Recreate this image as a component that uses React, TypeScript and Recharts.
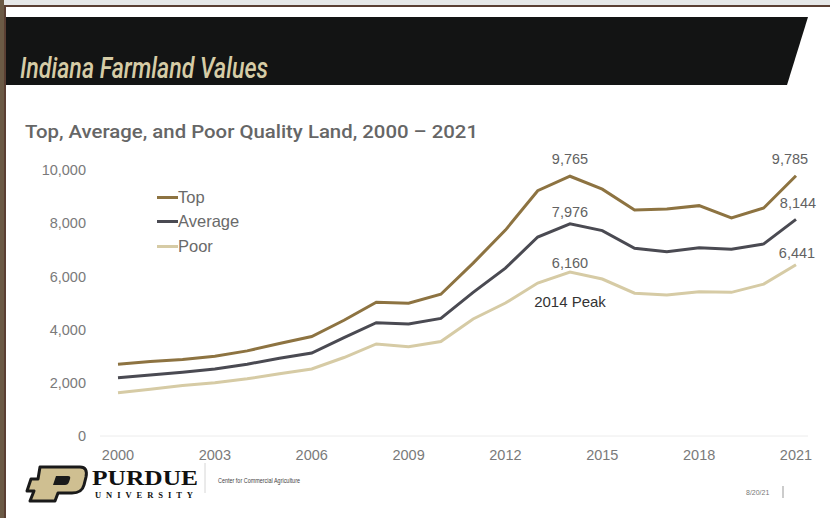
import React from 'react';
import { LineChart, Line, XAxis, YAxis, CartesianGrid } from 'recharts';

const years = [
  2000, 2001, 2002, 2003, 2004, 2005, 2006, 2007, 2008, 2009, 2010,
  2011, 2012, 2013, 2014, 2015, 2016, 2017, 2018, 2019, 2020, 2021,
];
const topValues = [
  2700, 2800, 2880, 3000, 3200, 3480, 3740, 4350, 5030, 4990, 5330,
  6500, 7740, 9220, 9765, 9280, 8500, 8530, 8660, 8200, 8570, 9785,
];
const averageValues = [
  2190, 2290, 2400, 2520, 2700, 2920, 3120, 3700, 4260, 4210, 4420,
  5400, 6310, 7480, 7976, 7720, 7060, 6930, 7080, 7020, 7220, 8144,
];
const poorValues = [
  1630, 1760, 1900, 2000, 2150, 2340, 2520, 2950, 3460, 3360, 3550,
  4400, 5000, 5750, 6160, 5900, 5370, 5300, 5420, 5400, 5710, 6441,
];
const xTicks = [2000, 2003, 2006, 2009, 2012, 2015, 2018, 2021];
const yTicks = [0, 2000, 4000, 6000, 8000, 10000];

const COLORS = { top: '#8d7341', average: '#4a4a52', poor: '#d6cba5' };
const SANS = 'Liberation Sans, Arial, sans-serif';

const data = years.map((year, i) => ({
  year,
  top: topValues[i],
  average: averageValues[i],
  poor: poorValues[i],
}));

const fmt = (v: number) => v.toLocaleString('en-US');

// label the 2014 peak and the 2021 value only
const makeLabel = (dyPeak: number, dyEnd: number, dxEnd: number, peakNote?: boolean) =>
  (props: any) => {
    const { x, y, value, index } = props;
    const year = years[index];
    if (year === 2014) {
      return (
        <g>
          <text x={x} y={y + dyPeak} textAnchor="middle" fill="#626262" fontSize={14.5} fontFamily={SANS}>
            {fmt(value)}
          </text>
          {peakNote && (
            <text x={x} y={y + 35} textAnchor="middle" fill="#333333" fontSize={15} fontFamily={SANS}>
              2014 Peak
            </text>
          )}
        </g>
      );
    }
    if (year === 2021) {
      return (
        <text x={x + dxEnd} y={y + dyEnd} textAnchor="middle" fill="#626262" fontSize={14.5} fontFamily={SANS}>
          {fmt(value)}
        </text>
      );
    }
    return null;
  };

const legendItems = [
  { name: 'Top', color: COLORS.top },
  { name: 'Average', color: COLORS.average },
  { name: 'Poor', color: COLORS.poor },
];

const App: React.FC = () => {
  return (
    <div style={{ position: 'absolute', left: 0, top: 0, width: 830, height: 518, background: '#ffffff', overflow: 'hidden' }}>
      {/* frame around the slide */}
      <div style={{ position: 'absolute', left: 0, top: 0, width: 830, height: 5, background: '#e6e8e8' }} />
      <div style={{ position: 'absolute', left: 0, top: 0, width: 4, height: 518, background: '#6b5a45' }} />
      <div style={{ position: 'absolute', left: 4, top: 5, width: 826, height: 2, background: '#5a3f33' }} />
      <div style={{ position: 'absolute', left: 4, top: 5, width: 2, height: 513, background: '#5a3f33' }} />

      {/* black title banner + subtitle */}
      <svg width={830} height={150} style={{ position: 'absolute', left: 0, top: 0 }}>
        <polygon points="6,17 808,17 787,85 6,85" fill="#131414" />
        <text x={20} y={78} fill="#d6cca6" fontSize={30} fontStyle="italic" fontWeight={500}
          fontFamily="Roboto, Liberation Sans, sans-serif" textLength={248} lengthAdjust="spacingAndGlyphs">
          Indiana Farmland Values
        </text>
        <text x={25} y={138} fill="#666666" fontSize={19} fontWeight={500}
          fontFamily="Roboto, Liberation Sans, sans-serif" textLength={453} lengthAdjust="spacingAndGlyphs">
          Top, Average, and Poor Quality Land, 2000 – 2021
        </text>
      </svg>

      <div style={{ position: 'absolute', left: 0, top: 0 }}>
        <LineChart width={830} height={518} data={data} margin={{ top: 170, right: 22, bottom: 52, left: 0 }}>
          <CartesianGrid horizontal={false} vertical={false} />
          <XAxis
            dataKey="year"
            type="number"
            domain={[2000, 2021]}
            ticks={xTicks}
            padding={{ left: 18, right: 12 }}
            height={30}
            tickSize={0}
            tickMargin={14}
            axisLine={{ stroke: '#ececec', strokeWidth: 1 }}
            tickLine={false}
            tick={{ fill: '#7a7a7a', fontSize: 14.5, fontFamily: SANS }}
          />
          <YAxis
            domain={[0, 10000]}
            ticks={yTicks}
            width={100}
            tickSize={0}
            tickMargin={14}
            axisLine={false}
            tickLine={false}
            tickFormatter={fmt}
            tick={{ fill: '#7a7a7a', fontSize: 14.5, fontFamily: SANS }}
          />
          <Line dataKey="poor" stroke={COLORS.poor} strokeWidth={3} dot={false} type="linear"
            isAnimationActive={false} label={makeLabel(-4, -7, 1, true)} />
          <Line dataKey="average" stroke={COLORS.average} strokeWidth={3} dot={false} type="linear"
            isAnimationActive={false} label={makeLabel(-7, -11, 2)} />
          <Line dataKey="top" stroke={COLORS.top} strokeWidth={3} dot={false} type="linear"
            isAnimationActive={false} label={makeLabel(-12.5, -12, -6)} />
        </LineChart>
      </div>

      {/* legend */}
      <div style={{ position: 'absolute', left: 157, top: 185, fontFamily: SANS, fontSize: 16.5, color: '#6a6a6a' }}>
        {legendItems.map(item => (
          <div key={item.name} style={{ display: 'flex', alignItems: 'center', height: 24.5 }}>
            <span style={{ display: 'inline-block', width: 21, height: 3, background: item.color }} />
            <span>{item.name}</span>
          </div>
        ))}
      </div>

      {/* footer */}
      <svg width={830} height={70} style={{ position: 'absolute', left: 0, top: 455 }}>
        <path d="M40,12 L80,12 Q88,12 86,22 L84,30 Q82,38 72,38 L58,38 L55,46 L30,46 L34,36 L27,36 L31,24 L38,24 Z"
          fill="#cfbf91" stroke="#1a1a1a" strokeWidth={3} strokeLinejoin="round" />
        <path d="M56,21 L68,21 Q71,21 70,24 L69,27 Q68,30 65,30 L53,30 Z" fill="#1a1a1a" />
        <text x={92} y={30} fontSize={22} fontFamily="Liberation Serif, serif" fontWeight={700} fill="#111111"
          textLength={106} lengthAdjust="spacingAndGlyphs">PURDUE</text>
        <text x={95} y={43} fontSize={8.5} fontFamily="Liberation Serif, serif" fontWeight={700} fill="#111111"
          textLength={98} lengthAdjust="spacing">UNIVERSITY</text>
        <line x1={205} y1={8} x2={205} y2={38} stroke="#d6d6d6" strokeWidth={1} />
        <text x={218} y={28} fontSize={7} fontFamily="Liberation Sans Narrow, Liberation Sans, sans-serif" fill="#444444"
          textLength={82} lengthAdjust="spacingAndGlyphs">Center for Commercial Agriculture</text>
        <text x={746} y={40} fontSize={7} fontFamily={SANS} fill="#777777">8/20/21</text>
        <line x1={783} y1={31} x2={783} y2={43} stroke="#999999" strokeWidth={1} />
      </svg>
    </div>
  );
};

export default App;
